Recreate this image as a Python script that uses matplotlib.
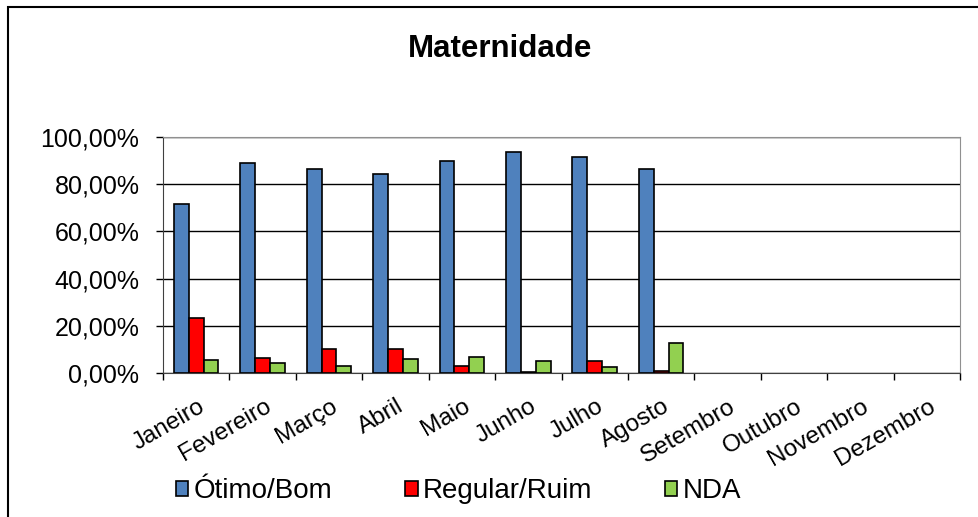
# -*- coding: utf-8 -*-
# %% Import der Module
import numpy as np
import matplotlib.pyplot as plt
from matplotlib.patches import Rectangle
from matplotlib.ticker import FuncFormatter

plt.rcParams['font.family'] = ['Liberation Sans', 'DejaVu Sans']

# %% Daten (in %)
meses = ["Janeiro", "Fevereiro", "Março", "Abril", "Maio", "Junho", "Julho",
         "Agosto", "Setembro", "Outubro", "Novembro", "Dezembro"]
otimo_bom = [71.6, 88.8, 86.6, 84.2, 90.0, 93.6, 91.7, 86.6]
regular_ruim = [23.3, 6.2, 10.2, 10.2, 3.0, 0.4, 5.2, 0.8]
nda = [5.5, 4.4, 3.0, 5.8, 6.6, 5.2, 2.4, 12.6]

# %% Plot
fig = plt.figure(figsize=(9.79, 5.17), dpi=100)
ax = fig.add_axes([163/979, 1 - 373/517, (960 - 163)/979, (373 - 137)/517])

x = np.arange(len(otimo_bom))
w = 0.223
ax.bar(x - w, otimo_bom, w, color="#4F81BD", edgecolor="black", linewidth=1.2,
       label="Ótimo/Bom", zorder=3)
ax.bar(x, regular_ruim, w, color="#FF0000", edgecolor="black", linewidth=1.2,
       label="Regular/Ruim", zorder=3)
ax.bar(x + w, nda, w, color="#92D050", edgecolor="black", linewidth=1.2,
       label="NDA", zorder=3)

ax.set_xlim(-0.5, len(meses) - 0.5)
ax.set_ylim(0, 100)
ax.set_yticks(np.arange(0, 101, 20))
ax.yaxis.set_major_formatter(FuncFormatter(lambda v, p: f"{v:.2f}%".replace(".", ",")))
ax.tick_params(axis="y", labelsize=18, length=5, width=1, direction="out", pad=12)
ax.grid(axis="y", color="black", linewidth=1, zorder=0)

# Monatsnamen schraeg, Ticks zwischen den Kategorien
ax.set_xticks(np.arange(len(meses) + 1) - 0.5)
ax.set_xticklabels([])
ax.tick_params(axis="x", length=5, width=1, direction="out")
for i, m in enumerate(meses):
    ax.text(i + 0.1, -0.135, m, transform=ax.get_xaxis_transform(),
            rotation=30, rotation_mode="anchor", ha="right", va="center",
            fontsize=17.5)

for s in ["left", "bottom"]:
    ax.spines[s].set_color("#404040")
for s in ["top", "right"]:
    ax.spines[s].set_color("#909090")

fig.text(0.511, 1 - 49/517, "Maternidade", ha="center", va="center",
         fontsize=22.5, fontweight="bold")

fig.legend(loc="center left", bbox_to_anchor=(176/979, 1 - 491/517), ncol=3,
           frameon=False, fontsize=20, handlelength=0.45, handleheight=0.45,
           handletextpad=0.2, columnspacing=2.6, borderpad=0, borderaxespad=0)

# Rahmen des Diagramms
fig.patches.append(Rectangle((8/979, -0.1), 2, 1.1 - 7/517, transform=fig.transFigure,
                             fill=False, edgecolor="black", linewidth=1.5))

fig.savefig("out.png", dpi=100)
